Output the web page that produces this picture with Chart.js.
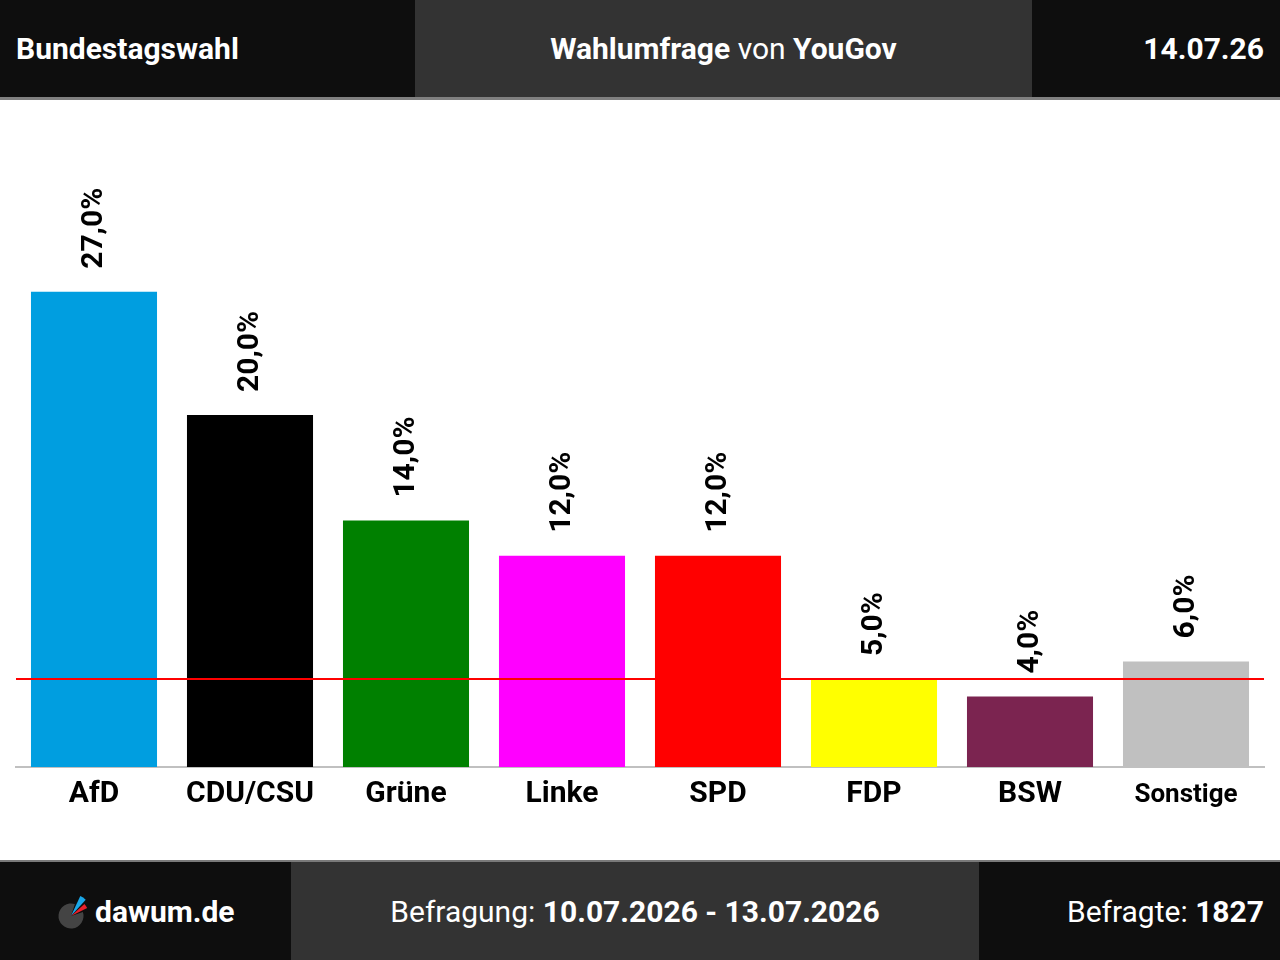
<!DOCTYPE html>
<html>
<head>
<meta charset="utf-8">
<script src="https://cdn.jsdelivr.net/npm/chart.js@4"></script>
<style>
  html, body { margin: 0; padding: 0; width: 1280px; height: 960px; background: #fff; overflow: hidden; font-family: Roboto, "Noto Sans", sans-serif; }
  .bar { position: absolute; left: 0; width: 1280px; color: #fff; font-size: 30px; }
  .bar div { position: absolute; top: 0; bottom: 0; display: flex; align-items: center; box-sizing: border-box; }
  #head { top: 0; border-bottom: 3px solid #808080; height: 100px; box-sizing: border-box; }
  #foot { top: 860px; height: 100px; border-top: 2px solid #7a7a7a; box-sizing: border-box; }
  .dark { background: #0e0e0e; }
  .mid { background: #333333; }
  b { font-weight: 700; }
  #wrap { position: absolute; left: 0; top: 100px; width: 1280px; height: 760px; }
</style>
</head>
<body>
<div id="head" class="bar">
  <div class="dark" style="left:0;width:415px;padding-left:16px;"><b>Bundestagswahl</b></div>
  <div class="mid" style="left:415px;width:617px;justify-content:center;"><span><b>Wahlumfrage</b> von <b>YouGov</b></span></div>
  <div class="dark" style="left:1032px;width:248px;justify-content:flex-end;padding-right:16px;"><b>14.07.26</b></div>
</div>

<div id="wrap"><canvas id="chart"></canvas></div>

<div id="foot" class="bar">
  <div class="dark" style="left:0;width:291px;padding-left:95px;"><b>dawum.de</b></div>
  <div class="mid" style="left:291px;width:688px;justify-content:center;"><span>Befragung: <b>10.07.2026 - 13.07.2026</b></span></div>
  <div class="dark" style="left:979px;width:301px;justify-content:flex-end;padding-right:16px;"><span>Befragte: <b>1827</b></span></div>
</div>
<svg style="position:absolute;left:50px;top:890px;" width="50" height="45" viewBox="0 0 50 45">
  <path d="M21 26 L32.9 22.1 A12.5 12.5 0 1 1 24.9 14.1 Z" fill="#444444"/>
  <path d="M21 26 L30.3 6.1 A22 22 0 0 1 35.7 9.65 Z" fill="#1aa7e8"/>
  <path d="M21 26 L34.4 14.0 A18 18 0 0 1 37.2 18.1 Z" fill="#e8202a"/>
</svg>

<script>
const parties = ["AfD", "CDU/CSU", "Grüne", "Linke", "SPD", "FDP", "BSW", "Sonstige"];
const shares = [27, 20, 14, 12, 12, 5, 4, 6];
const partyColors = ["#009ee0", "#000000", "#008000", "#ff00ff", "#ff0000", "#ffff00", "#7b2450", "#c0c0c0"];
const threshold = 5;

const fmt = v => v.toFixed(1).replace(".", ",") + "%";

// 5%-Huerde und Werte ueber den Balken
const extras = {
  id: "extras",
  afterDatasetsDraw(chart) {
    const ctx = chart.ctx;
    const area = chart.chartArea;
    const y = chart.scales.y.getPixelForValue(threshold);
    ctx.save();
    ctx.strokeStyle = "#ff0000";
    ctx.lineWidth = 2;
    ctx.beginPath();
    ctx.moveTo(area.left, y);
    ctx.lineTo(area.right, y);
    ctx.stroke();

    ctx.fillStyle = "#000";
    ctx.font = "bold 30px Roboto";
    ctx.textAlign = "left";
    ctx.textBaseline = "middle";
    chart.getDatasetMeta(0).data.forEach((bar, i) => {
      ctx.save();
      ctx.translate(bar.x, bar.y - 23);
      ctx.rotate(-Math.PI / 2);
      ctx.fillText(fmt(shares[i]), 0, 0);
      ctx.restore();
    });
    ctx.restore();
  }
};

new Chart(document.getElementById("chart"), {
  type: "bar",
  data: {
    labels: parties,
    datasets: [{
      data: shares,
      backgroundColor: partyColors,
      barPercentage: 0.808,
      categoryPercentage: 1
    }]
  },
  plugins: [extras],
  options: {
    responsive: true,
    maintainAspectRatio: false,
    animation: false,
    layout: {
      padding: { left: 16, right: 16, top: 139, bottom: 0 }
    },
    plugins: {
      legend: { display: false },
      tooltip: { enabled: false }
    },
    scales: {
      x: {
        grid: { display: false, drawTicks: false },
        border: { color: "#c0c0c0", width: 2 },
        ticks: {
          color: "#000",
          padding: 9,
          font: ctx => ctx.index === 7
            ? { family: "Roboto", weight: "bold", size: 26, lineHeight: 1.5 }
            : { family: "Roboto", weight: "bold", size: 30, lineHeight: 1.2 }
        },
        afterFit(scale) { scale.height = 93; }
      },
      y: {
        display: false,
        min: 0,
        max: 30
      }
    }
  }
});
</script>
</body>
</html>
